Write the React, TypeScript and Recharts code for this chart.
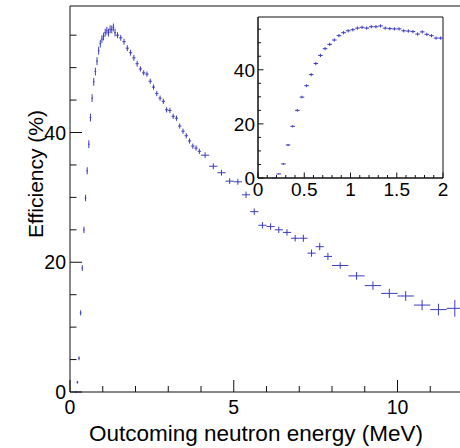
import React from 'react';
import { ScatterChart, Scatter, XAxis, YAxis, ErrorBar, ReferenceLine, ReferenceArea } from 'recharts';

const FONT = '"Liberation Sans", Arial, Helvetica, sans-serif';
const BLUE = '#3c3cc0';
const AXIS = '#111';

// 0.05 MeV bins (used in the inset, and in the main plot below 1.4 MeV)
const fineCenters = [
  0.175, 0.225, 0.275, 0.325, 0.375, 0.425, 0.475, 0.525, 0.575, 0.625,
  0.675, 0.725, 0.775, 0.825, 0.875, 0.925, 0.975, 1.025, 1.075, 1.125,
  1.175, 1.225, 1.275, 1.325, 1.375, 1.425, 1.475, 1.525, 1.575, 1.625,
  1.675, 1.725, 1.775, 1.825, 1.875, 1.925, 1.975,
];
const fineValues = [
  0.0, 1.5, 5.2, 12.2, 19.1, 25.0, 29.9, 34.1, 38.2, 42.3,
  45.3, 47.8, 49.4, 51.0, 52.6, 53.7, 54.4, 54.8, 55.4, 55.7,
  55.4, 55.9, 55.9, 56.2, 55.4, 55.2, 55.1, 55.1, 54.4, 54.3,
  54.1, 53.2, 54.0, 53.1, 52.6, 51.7, 51.7,
];
const fineErrors = [
  0.05, 0.2, 0.3, 0.4, 0.45, 0.5, 0.5, 0.55, 0.6, 0.6,
  0.6, 0.6, 0.6, 0.6, 0.6, 0.6, 0.6, 0.6, 0.6, 0.6,
  0.6, 0.6, 0.6, 0.6, 0.6, 0.6, 0.6, 0.6, 0.6, 0.6,
  0.6, 0.6, 0.6, 0.6, 0.6, 0.6, 0.6,
];
const fineLimitMain = 1.4;

// 0.1 MeV bins, 1.4 - 4.0 MeV (main plot)
const midCenters = [
  1.45, 1.55, 1.65, 1.75, 1.85, 1.95, 2.05, 2.15, 2.25, 2.35,
  2.45, 2.55, 2.65, 2.75, 2.85, 2.95, 3.05, 3.15, 3.25, 3.35,
  3.45, 3.55, 3.65, 3.75, 3.85, 3.95,
];
const midValues = [
  55.0, 54.6, 54.0, 53.0, 52.3, 51.5, 50.6, 49.8, 49.2, 49.0,
  47.9, 47.0, 46.0, 45.3, 44.8, 43.5, 43.4, 42.5, 42.2, 41.0,
  40.2, 39.5, 38.7, 37.9, 37.6, 37.1,
];
const midErrors = [
  0.45, 0.45, 0.45, 0.45, 0.45, 0.45, 0.45, 0.4, 0.4, 0.4,
  0.4, 0.4, 0.4, 0.4, 0.4, 0.4, 0.4, 0.4, 0.4, 0.4,
  0.4, 0.4, 0.4, 0.4, 0.4, 0.4,
];

// 0.25 MeV bins, 4 - 8 MeV
const wideCenters = [
  4.125, 4.375, 4.625, 4.875, 5.125, 5.375, 5.625, 5.875,
  6.125, 6.375, 6.625, 6.875, 7.125, 7.375, 7.625, 7.875,
];
const wideValues = [
  36.5, 34.8, 33.8, 32.5, 32.4, 30.4, 27.8, 25.7,
  25.5, 25.0, 24.6, 23.7, 23.7, 21.4, 22.4, 20.9,
];
const wideErrors = [
  0.45, 0.45, 0.45, 0.45, 0.45, 0.5, 0.5, 0.5,
  0.5, 0.5, 0.5, 0.5, 0.55, 0.55, 0.55, 0.55,
];

// 0.5 MeV bins, 8 - 12 MeV
const broadCenters = [8.25, 8.75, 9.25, 9.75, 10.25, 10.75, 11.25, 11.75];
const broadValues = [19.5, 17.9, 16.4, 15.2, 14.8, 13.4, 12.7, 12.9];
const broadErrors = [0.5, 0.6, 0.65, 0.7, 0.75, 0.8, 0.9, 1.3];

const MAIN_X_TICKS = [0, 1, 2, 3, 4, 5, 6, 7, 8, 9, 10, 11, 12];
const MAIN_X_LABELS = [0, 5, 10];
const MAIN_Y_TICKS = [0, 5, 10, 15, 20, 25, 30, 35, 40, 45, 50, 55];
const MAIN_Y_LABELS = [0, 20, 40];
const INSET_X_TICKS = [0, 0.1, 0.2, 0.3, 0.4, 0.5, 0.6, 0.7, 0.8, 0.9, 1, 1.1, 1.2, 1.3, 1.4, 1.5, 1.6, 1.7, 1.8, 1.9, 2];
const INSET_X_LABELS = [0, 0.5, 1, 1.5, 2];
const INSET_Y_TICKS = [0, 5, 10, 15, 20, 25, 30, 35, 40, 45, 50, 55];
const INSET_Y_LABELS = [0, 20, 40];

const Y_MAX = 59.5;

type Pt = { x: number; y: number; ex: number; ey: number };

function build(centers: number[], values: number[], errors: number[], halfWidth: number, keep?: (c: number) => boolean): Pt[] {
  const out: Pt[] = [];
  centers.forEach((c, i) => {
    if (keep && !keep(c)) return;
    out.push({ x: c, y: values[i], ex: halfWidth, ey: errors[i] });
  });
  return out;
}

const mainData: Pt[] = [
  ...build(fineCenters, fineValues, fineErrors, 0.025, (c) => c < fineLimitMain),
  ...build(midCenters, midValues, midErrors, 0.05),
  ...build(wideCenters, wideValues, wideErrors, 0.125),
  ...build(broadCenters, broadValues, broadErrors, 0.25),
];
const insetData: Pt[] = build(fineCenters, fineValues, fineErrors, 0.025);

const isLabel = (labels: number[], v: number) => labels.some((l) => Math.abs(l - v) < 1e-9);

function makeXTick(labels: number[], majorLen: number, minorLen: number, fontSize: number, labelOffset: number) {
  return (props: any) => {
    const { x, y, payload } = props;
    const v = payload.value;
    const major = isLabel(labels, v);
    return (
      <g>
        <line x1={x} x2={x} y1={y} y2={y - (major ? majorLen : minorLen)} stroke={AXIS} strokeWidth={1} />
        {major && (
          <text x={x} y={y + labelOffset} textAnchor="middle" fontFamily={FONT} fontSize={fontSize} fill="#000">
            {String(v)}
          </text>
        )}
      </g>
    );
  };
}

function makeYTick(labels: number[], majorLen: number, minorLen: number, fontSize: number, gap: number, dy: number) {
  return (props: any) => {
    const { x, y, payload } = props;
    const v = payload.value;
    const major = isLabel(labels, v);
    return (
      <g>
        <line x1={x} x2={x + (major ? majorLen : minorLen)} y1={y} y2={y} stroke={AXIS} strokeWidth={1} />
        {major && (
          <text x={x - gap} y={y + dy} textAnchor="end" fontFamily={FONT} fontSize={fontSize} fill="#000">
            {String(v)}
          </text>
        )}
      </g>
    );
  };
}

const noShape = () => <g />;

export default function App() {
  return (
    <div style={{ position: 'absolute', left: 0, top: 0, width: 460, height: 448, overflow: 'hidden', background: '#fff' }}>
      <div style={{ position: 'absolute', left: 0, top: 0 }}>
        <ScatterChart width={463} height={448} margin={{ top: 6, right: 0, bottom: 0, left: 0 }}>
          <XAxis
            type="number"
            dataKey="x"
            domain={[0, 12]}
            ticks={MAIN_X_TICKS}
            interval={0}
            height={56}
            tickSize={0}
            tickMargin={0}
            tickLine={false}
            axisLine={{ stroke: AXIS, strokeWidth: 1 }}
            tick={makeXTick(MAIN_X_LABELS, 12, 6, 19.5, 22)}
            allowDataOverflow
          />
          <YAxis
            type="number"
            dataKey="y"
            domain={[0, Y_MAX]}
            ticks={MAIN_Y_TICKS}
            interval={0}
            width={70}
            tickSize={0}
            tickMargin={0}
            tickLine={false}
            axisLine={{ stroke: AXIS, strokeWidth: 1 }}
            tick={makeYTick(MAIN_Y_LABELS, 12, 6.5, 19.5, 4, 7)}
            allowDataOverflow
          />
          <ReferenceLine y={Y_MAX} stroke={AXIS} strokeWidth={1} />
          <Scatter data={mainData} shape={noShape} isAnimationActive={false}>
            <ErrorBar dataKey="ey" direction="y" width={0} stroke={BLUE} strokeWidth={1} isAnimationActive={false} />
            <ErrorBar dataKey="ex" direction="x" width={0} stroke={BLUE} strokeWidth={1} isAnimationActive={false} />
          </Scatter>
        </ScatterChart>
        <svg width={460} height={448} style={{ position: 'absolute', left: 0, top: 0, pointerEvents: 'none' }}>
          <text x={256} y={441} textAnchor="middle" fontFamily={FONT} fontSize={22.5} fill="#000">
            Outcoming neutron energy (MeV)
          </text>
          <text
            x={43}
            y={174}
            textAnchor="middle"
            fontFamily={FONT}
            fontSize={21}
            fill="#000"
            transform="rotate(-90 43 174)"
          >
            Efficiency (%)
          </text>
        </svg>
      </div>
      <div style={{ position: 'absolute', left: 200, top: 0 }}>
        <ScatterChart width={260} height={220} margin={{ top: 17, right: 17, bottom: 0, left: 0 }}>
          <XAxis
            type="number"
            dataKey="x"
            domain={[0, 2]}
            ticks={INSET_X_TICKS}
            interval={0}
            height={42}
            tickSize={0}
            tickMargin={0}
            tickLine={false}
            axisLine={{ stroke: AXIS, strokeWidth: 1 }}
            tick={makeXTick(INSET_X_LABELS, 5.5, 3, 19, 18)}
            allowDataOverflow
          />
          <YAxis
            type="number"
            dataKey="y"
            domain={[0, Y_MAX]}
            ticks={INSET_Y_TICKS}
            interval={0}
            width={58}
            tickSize={0}
            tickMargin={0}
            tickLine={false}
            axisLine={{ stroke: AXIS, strokeWidth: 1 }}
            tick={makeYTick(INSET_Y_LABELS, 5.5, 3, 19, 3, 7)}
            allowDataOverflow
          />
          <ReferenceArea x1={0} x2={2} y1={0} y2={Y_MAX} fill="none" stroke={AXIS} strokeWidth={1} />
          <Scatter data={insetData} shape={noShape} isAnimationActive={false}>
            <ErrorBar dataKey="ey" direction="y" width={0} stroke={BLUE} strokeWidth={1} isAnimationActive={false} />
            <ErrorBar dataKey="ex" direction="x" width={0} stroke={BLUE} strokeWidth={1} isAnimationActive={false} />
          </Scatter>
        </ScatterChart>
      </div>
    </div>
  );
}
